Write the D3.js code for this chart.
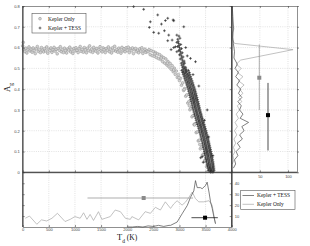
<!DOCTYPE html>
<html>
<head>
<meta charset="utf-8">
<script src="https://cdn.jsdelivr.net/npm/d3@7"></script>
<style>
body { margin: 0; background: #fff; }
svg { display: block; }
.tick text { font-family: "Liberation Sans", Arial, sans-serif; font-size: 4px; fill: #444; }
.axis path, .axis line { stroke: #444; stroke-width: 0.6; }
.grid line { stroke: #c4c4c4; stroke-width: 0.5; stroke-dasharray: 1,1.2; }
.serif { font-family: "Liberation Serif", "DejaVu Serif", serif; fill: #111; }
</style>
</head>
<body>
<div id="chart"></div>
<script>
// Kepler Only: flat band then the bend down
var keplerOnly = [
  [10,.625],
  [0,.608],[20,.592],[40,.581],[60,.597],[80,.574],[100,.589],[120,.603],[140,.584],[160,.593],[180,.578],
  [200,.598],[220,.586],[240,.571],[260,.594],[280,.605],[300,.582],[320,.590],[340,.576],[360,.600],[380,.587],
  [400,.579],[420,.595],[440,.584],[460,.603],[480,.573],[500,.591],[520,.586],[540,.598],[560,.577],[580,.589],
  [600,.601],[620,.583],[640,.592],[660,.570],[680,.595],[700,.587],[720,.604],[740,.580],[760,.591],[780,.576],
  [800,.597],[820,.585],[840,.574],[860,.593],[880,.588],[900,.602],[920,.579],[940,.590],[960,.572],[980,.596],
  [1000,.584],[1020,.599],[1040,.587],[1060,.576],[1080,.594],[1100,.605],[1120,.582],[1140,.591],[1160,.578],[1180,.600],
  [1200,.589],[1220,.575],[1240,.597],[1260,.586],[1280,.608],[1300,.581],[1320,.593],[1340,.577],[1360,.601],[1380,.588],
  [1400,.583],[1420,.596],[1440,.574],[1460,.591],[1480,.604],[1500,.585],[1520,.579],[1540,.598],[1560,.590],[1580,.576],
  [1600,.595],[1620,.587],[1640,.603],[1660,.580],[1680,.592],[1700,.574],[1720,.599],[1740,.586],[1760,.606],[1780,.583],
  [1800,.591],[1820,.578],[1840,.597],[1860,.588],[1880,.573],[1900,.601],[1920,.584],[1940,.594],[1960,.580],[1980,.599],
  [2000,.587],[2020,.602],[2040,.576],[2060,.593],[2080,.585],[2100,.598],[2120,.571],[2140,.590],[2160,.596],[2180,.581],
  [2200,.588],[2220,.575],[2240,.594],[2260,.583],[2280,.599],[2300,.572],[2320,.586],[2340,.592],[2360,.577],[2380,.584],
  [2400,.580],[2420,.590],[2440,.566],[2460,.585],[2480,.561],[2500,.581],[2520,.558],[2540,.576],[2560,.552],[2580,.570],
  [2600,.547],[2620,.566],[2640,.543],[2660,.558],[2680,.532],[2700,.551],[2720,.525],[2740,.545],[2760,.516],[2780,.533],
  [2800,.507],[2820,.524],[2840,.496],[2860,.513],[2880,.484],[2900,.501],[2920,.471],[2940,.487],[2960,.456],[2980,.470],
  [3000,.441],[3020,.452],[3040,.419],[3060,.430],[3080,.394],[3100,.403],[3120,.366],[3140,.372],[3160,.333],[3180,.340],
  [3200,.301],[3220,.307],[3240,.267],[3260,.273],[3280,.230],[3300,.234],[3320,.191],[3340,.194],[3360,.151],[3380,.155],
  [3400,.113],[3420,.120],[3440,.082],[3460,.088],[3480,.053],[3500,.060],[3520,.027],[3540,.035],[3560,.006],[3580,.018],
  [3600,.004],
  [2530,.570],[2650,.550],[2770,.525],[2890,.492],[2990,.455],[3090,.398],[3190,.320],[3290,.228],[3390,.134],[3490,.058],[3570,.014]
];

// Kepler + TESS: main steep band, one row per A value
var tessBand = [
  [.66,[2950]],[.655,[2990]],[.645,[3010]],[.64,[2968]],[.63,[2976]],[.625,[2950]],[.62,[2984]],[.615,[3025]],
  [.61,[2992]],[.605,[2965]],[.60,[3000]],[.595,[3040]],[.59,[3009]],[.585,[2985]],[.58,[3018]],[.575,[3055]],
  [.57,[3027]],[.565,[3000]],[.56,[3036]],[.555,[3070]],[.55,[3045]],[.545,[3015]],[.54,[3055]],[.535,[3090]],
  [.53,[3065]],[.525,[3035,3100]],[.52,[3075]],[.515,[3045]],[.51,[3085]],[.505,[3120,3060]],[.50,[3095]],[.495,[3070,3130]],
  [.49,[3044,3112,3172]],[.485,[3080,3140]],[.48,[3060,3120,3190]],[.475,[3098,3160]],
  [.47,[3072,3140,3200]],[.465,[3110,3175]],[.46,[3088,3150,3215]],[.455,[3128,3190]],
  [.45,[3100,3168,3228]],[.445,[3140,3205]],[.44,[3112,3180,3242]],[.435,[3155,3218]],
  [.43,[3128,3190,3256]],[.425,[3165,3230]],[.42,[3140,3205,3268]],[.415,[3180,3245]],
  [.41,[3152,3215,3282]],[.405,[3192,3258]],[.40,[3165,3230,3295]],[.395,[3205,3270]],
  [.39,[3175,3242,3305]],[.385,[3215,3280]],[.38,[3186,3250,3316]],[.375,[3225,3290]],
  [.37,[3196,3262,3325]],[.365,[3235,3300]],[.36,[3205,3270,3336]],[.355,[3248,3310]],
  [.35,[3215,3282,3345]],[.345,[3258,3320]],[.34,[3226,3290,3356]],[.335,[3268,3332]],
  [.33,[3236,3300,3366]],[.325,[3278,3342]],[.32,[3245,3312,3375]],[.315,[3288,3352]],
  [.31,[3256,3320,3386]],[.305,[3298,3362]],[.30,[3265,3332,3395]],[.295,[3310,3372]],
  [.29,[3276,3340,3406]],[.285,[3320,3385]],[.28,[3288,3352,3418]],[.275,[3330,3395]],
  [.27,[3298,3365,3428]],[.265,[3342,3405]],[.26,[3310,3375,3440]],[.255,[3352,3418]],
  [.25,[3320,3386,3450]],[.245,[3365,3428]],[.24,[3332,3398,3462]],[.235,[3375,3440]],
  [.23,[3345,3410,3474]],[.225,[3388,3452]],[.22,[3356,3420,3486]],[.215,[3398,3464]],
  [.21,[3368,3432,3498]],[.205,[3412,3475]],[.20,[3380,3446,3510]],[.195,[3422,3486]],
  [.19,[3390,3455,3520]],[.185,[3432,3496]],[.18,[3400,3466,3530]],[.175,[3442,3506]],
  [.17,[3410,3475,3540]],[.165,[3452,3516]],[.16,[3420,3486,3550]],[.155,[3462,3526]],
  [.15,[3430,3495,3560]],[.145,[3472,3536]],[.14,[3440,3504,3568]],[.135,[3480,3545]],
  [.13,[3448,3514,3578]],[.125,[3490,3554]],[.12,[3456,3522,3586]],[.115,[3500,3562]],
  [.11,[3466,3530,3596]],[.105,[3508,3572]],[.10,[3475,3540,3604]],[.095,[3516,3580]],
  [.09,[3484,3548,3612]],[.085,[3525,3588]],[.08,[3492,3556,3620]],[.075,[3532,3596]],
  [.07,[3500,3565,3628]],[.065,[3540,3604]],[.06,[3510,3572,3636]],[.055,[3548,3612]],
  [.05,[3518,3580,3644]],[.045,[3556,3620]],[.04,[3528,3590,3650]],[.035,[3565,3626]],
  [.03,[3536,3598,3656]],[.025,[3574,3634]],[.02,[3545,3605,3660]],[.015,[3582,3640]],
  [.01,[3555,3612,3664]],[.005,[3590,3645]],[.00,[3600,3640]]
];

// Kepler + TESS: scattered points off the band
var tessScatter = [
  [2123,.797],[2315,.784],[2584,.757],[2443,.724],[2424,.697],[2507,.673],[2603,.669],[2655,.713],
  [2731,.730],[2776,.741],[2879,.733],[2891,.729],[3083,.700],[2712,.681],[2795,.660],[2776,.633],
  [2860,.636],[2891,.600],[2840,.590],[2950,.580],[2923,.604],[3307,.532],[3211,.548],[3371,.415],
  [3532,.300],[3436,.075],[3455,.048],[3407,.070],[3120,.600],[3150,.560],[3260,.470],[3480,.250],
  [3560,.170],[3640,.080]
];

// right panel: distributions of A_g  [A, count]
var histAKepler = [
  [.80,1],[.75,1],[.71,2],[.69,4],[.67,1],[.64,1],[.62,5],[.59,109],[.54,16],[.52,8],[.50,17],[.48,10],
  [.46,20],[.44,12],[.42,22],[.40,14],[.38,20],[.36,12],[.34,18],[.32,10],[.30,14],[.28,8],[.26,12],
  [.24,6],[.22,10],[.20,5],[.18,9],[.16,4],[.14,7],[.12,3],[.10,6],[.08,2],[.06,4],[.04,1]
];
var histATess = [
  [.80,1],[.75,2],[.70,3],[.65,2],[.62,3],[.58,5],[.55,4],[.52,10],[.50,6],[.48,12],[.46,7],[.44,14],
  [.42,9],[.40,16],[.38,12],[.36,18],[.34,11],[.32,17],[.30,14],[.28,20],[.26,15],[.24,30],[.22,18],
  [.20,22],[.18,14],[.16,19],[.14,10],[.12,15],[.10,8],[.08,11],[.06,5],[.04,7],[.02,3]
];

// bottom panel: distributions of T_d  [T, count]
var histTKepler = [
  [50,8],[130,10],[270,2.5],[360,6.5],[460,5.5],[560,8],[665,12.5],[810,5],[910,7],[1000,9.5],
  [1100,8],[1165,13],[1230,7],[1290,11.5],[1355,6],[1450,14],[1515,7],[1580,8],[1675,9.5],[1770,15.5],
  [1870,14],[1965,8],[2060,7],[2090,9.5],[2220,6.5],[2345,14],[2445,12.5],[2540,18],[2635,15.5],[2730,23],
  [2830,17],[2890,21],[2955,24],[3050,20],[3115,22.7],[3180,27],[3245,32],[3305,26],[3370,23],[3465,23],
  [3565,24],[3625,20],[3660,10.6],[3690,3]
];
var histTTess = [
  [2000,0],[2100,0],[2200,0.5],[2300,0],[2400,1],[2500,0.5],[2600,1.5],[2700,0.5],[2800,1.5],[2830,1.5],
  [2955,4.5],[3050,12],[3150,19.7],[3210,27],[3275,33],[3307,42.4],[3340,36],[3400,36],[3435,35],[3500,38],
  [3530,41],[3565,32],[3595,23],[3627,17],[3660,9],[3690,3]
];

// error bars: [centre, low, high, other coordinate]
var errAKepler = [0.455, 0.30, 0.615, 49];
var errATess = [0.275, 0.105, 0.43, 64.5];
var errTKepler = [2315, 1240, 3260, 26.5];
var errTTess = [3490, 3230, 3735, 8.5];

var xTicks = [0,500,1000,1500,2000,2500,3000,3500,4000];
var yTicks = [0,0.1,0.2,0.3,0.4,0.5,0.6,0.7,0.8];
var countTicksT = [10,20,30,40];
var countTicksA = [50,100];

function init() {
    var w = 310, h = 246;
    var left = 22.7, mid = 231.7, right = 297, top = 6, split = 172.3, bottom = 227;

    var svg = d3.select("#chart").append("svg")
        .attr("width", w).attr("height", h);

    var xScale = d3.scaleLinear().domain([0,4000]).range([left, mid]);
    var yScale = d3.scaleLinear().domain([0,0.8]).range([split, top]);
    var cntX = d3.scaleLinear().domain([0,116]).range([mid, right]);
    var cntY = d3.scaleLinear().domain([0,50]).range([bottom, split]);

    //grids
    var g = svg.append("g").attr("class", "grid");
    g.selectAll(".gx").data(xTicks.slice(1, -1)).enter().append("line")
        .attr("x1", d => xScale(d)).attr("x2", d => xScale(d))
        .attr("y1", top).attr("y2", bottom);
    g.selectAll(".gy").data(yTicks.slice(1, -1)).enter().append("line")
        .attr("x1", left).attr("x2", right)
        .attr("y1", d => yScale(d)).attr("y2", d => yScale(d));
    g.selectAll(".ga").data(countTicksA).enter().append("line")
        .attr("x1", d => cntX(d)).attr("x2", d => cntX(d))
        .attr("y1", top).attr("y2", split);

    //scatter: Kepler only circles
    svg.append("g").selectAll("circle").data(keplerOnly).enter().append("circle")
        .attr("cx", d => xScale(d[0])).attr("cy", d => yScale(d[1]))
        .attr("r", 1.4)
        .attr("fill", "#d2d2d2").attr("stroke", "#8e8e8e").attr("stroke-width", 0.5);

    //scatter: Kepler + TESS pluses
    var tessPts = tessScatter.slice();
    tessBand.forEach(function(row) {
        row[1].forEach(function(t) { tessPts.push([t, row[0]]); });
    });
    var plus = "M-1.4,0H1.4M0,-1.4V1.4";
    svg.append("g").selectAll("path").data(tessPts).enter().append("path")
        .attr("d", plus)
        .attr("transform", d => "translate(" + xScale(d[0]) + "," + yScale(d[1]) + ")")
        .attr("stroke", "#111").attr("stroke-width", 0.6).attr("fill", "none");

    //right panel histograms
    var lineA = d3.line().x(d => cntX(d[1])).y(d => yScale(d[0]));
    svg.append("path").datum(histAKepler).attr("d", lineA)
        .attr("fill", "none").attr("stroke", "#a8a8a8").attr("stroke-width", 0.7);
    svg.append("path").datum(histATess).attr("d", lineA)
        .attr("fill", "none").attr("stroke", "#4a4a4a").attr("stroke-width", 0.7);

    //bottom panel histograms
    var lineT = d3.line().x(d => xScale(d[0])).y(d => cntY(d[1]));
    svg.append("path").datum(histTKepler).attr("d", lineT)
        .attr("fill", "none").attr("stroke", "#a8a8a8").attr("stroke-width", 0.7);
    svg.append("path").datum(histTTess).attr("d", lineT)
        .attr("fill", "none").attr("stroke", "#4a4a4a").attr("stroke-width", 0.7);

    //error bars
    function vBar(e, col) {
        svg.append("line").attr("x1", cntX(e[3])).attr("x2", cntX(e[3]))
            .attr("y1", yScale(e[1])).attr("y2", yScale(e[2]))
            .attr("stroke", col).attr("stroke-width", 0.7);
        svg.append("rect").attr("x", cntX(e[3]) - 2).attr("y", yScale(e[0]) - 2)
            .attr("width", 4).attr("height", 4).attr("fill", col);
    }
    function hBar(e, col) {
        svg.append("line").attr("x1", xScale(e[1])).attr("x2", xScale(e[2]))
            .attr("y1", cntY(e[3])).attr("y2", cntY(e[3]))
            .attr("stroke", col).attr("stroke-width", 0.7);
        svg.append("rect").attr("x", xScale(e[0]) - 2).attr("y", cntY(e[3]) - 2)
            .attr("width", 4).attr("height", 4).attr("fill", col);
    }
    vBar(errAKepler, "#8a8a8a");
    vBar(errATess, "#000");
    hBar(errTKepler, "#8a8a8a");
    hBar(errTTess, "#000");

    //axes
    var fmtY = d => d === 0 ? "0" : d.toFixed(1);
    function addAxis(axis, tx, ty) {
        return svg.append("g").attr("class", "axis")
            .attr("transform", "translate(" + tx + "," + ty + ")")
            .call(axis);
    }
    addAxis(d3.axisLeft(yScale).tickValues(yTicks).tickFormat(fmtY)
        .tickSizeInner(-2).tickSizeOuter(0).tickPadding(3), left, 0);
    addAxis(d3.axisTop(xScale).tickValues(xTicks).tickFormat("")
        .tickSizeInner(-2).tickSizeOuter(0), 0, top);
    addAxis(d3.axisTop(xScale).tickValues(xTicks).tickFormat("")
        .tickSizeInner(2).tickSizeOuter(0), 0, split);
    addAxis(d3.axisBottom(xScale).tickValues(xTicks).tickFormat(d3.format("d"))
        .tickSizeInner(-2).tickSizeOuter(0).tickPadding(1.5), 0, bottom);
    addAxis(d3.axisLeft(cntY).tickValues(countTicksT).tickFormat("")
        .tickSizeInner(-2).tickSizeOuter(0), left, 0);
    addAxis(d3.axisRight(cntY).tickValues(countTicksT)
        .tickSizeInner(-2).tickSizeOuter(0).tickPadding(3), mid, 0);
    addAxis(d3.axisBottom(cntX).tickValues(countTicksA)
        .tickSizeInner(-2).tickSizeOuter(0).tickPadding(3), 0, split);
    addAxis(d3.axisTop(cntX).tickValues(countTicksA).tickFormat("")
        .tickSizeInner(-2).tickSizeOuter(0), 0, top);
    addAxis(d3.axisLeft(yScale).tickValues(yTicks).tickFormat("")
        .tickSizeInner(-2).tickSizeOuter(0), right, 0);
    addAxis(d3.axisRight(yScale).tickValues(yTicks).tickFormat("")
        .tickSizeInner(-2).tickSizeOuter(0), mid, 0);

    //heavy shared frame lines
    svg.append("line").attr("x1", left).attr("x2", right).attr("y1", split).attr("y2", split)
        .attr("stroke", "#333").attr("stroke-width", 1.1);
    svg.append("line").attr("x1", mid).attr("x2", mid).attr("y1", top).attr("y2", bottom)
        .attr("stroke", "#333").attr("stroke-width", 1.1);
    svg.append("line").attr("x1", left).attr("x2", left).attr("y1", top).attr("y2", bottom)
        .attr("stroke", "#333").attr("stroke-width", 0.9);

    //axis titles
    var ag = svg.append("text").attr("class", "serif")
        .attr("transform", "translate(10,92) rotate(-90)");
    ag.append("tspan").attr("font-size", 8.5).text("A");
    ag.append("tspan").attr("font-size", 5.5).attr("dy", 2.5).text("g");

    var td = svg.append("text").attr("class", "serif").attr("x", 117).attr("y", 240);
    td.append("tspan").attr("font-size", 8.5).text("T");
    td.append("tspan").attr("font-size", 5.5).attr("dy", 2.5).text("d");
    td.append("tspan").attr("font-size", 7.5).attr("dy", -2.5).text(" (K)");

    //legend 1
    var lg = svg.append("g");
    lg.append("rect").attr("x", 32).attr("y", 13.5).attr("width", 54).attr("height", 19.5)
        .attr("fill", "#fff").attr("stroke", "#555").attr("stroke-width", 0.6);
    lg.append("circle").attr("cx", 40).attr("cy", 18.7).attr("r", 1.4)
        .attr("fill", "#d2d2d2").attr("stroke", "#8e8e8e").attr("stroke-width", 0.5);
    lg.append("path").attr("d", plus).attr("transform", "translate(40,28)")
        .attr("stroke", "#111").attr("stroke-width", 0.6);
    lg.append("text").attr("class", "serif").attr("x", 48).attr("y", 20.6)
        .attr("font-size", 5.4).text("Kepler Only");
    lg.append("text").attr("class", "serif").attr("x", 48).attr("y", 29.9)
        .attr("font-size", 5.4).text("Kepler + TESS");

    //legend 2
    var lg2 = svg.append("g");
    lg2.append("rect").attr("x", 240.7).attr("y", 190.3).attr("width", 54.3).attr("height", 19)
        .attr("fill", "#fff").attr("stroke", "#555").attr("stroke-width", 0.6);
    lg2.append("line").attr("x1", 242.5).attr("x2", 254).attr("y1", 195.5).attr("y2", 195.5)
        .attr("stroke", "#4a4a4a").attr("stroke-width", 0.7);
    lg2.append("line").attr("x1", 242.5).attr("x2", 254).attr("y1", 204.3).attr("y2", 204.3)
        .attr("stroke", "#a8a8a8").attr("stroke-width", 0.7);
    lg2.append("text").attr("class", "serif").attr("x", 257).attr("y", 197.4)
        .attr("font-size", 5.4).text("Kepler + TESS");
    lg2.append("text").attr("class", "serif").attr("x", 257).attr("y", 206.2)
        .attr("font-size", 5.4).text("Kepler Only");
}
window.onload = init;
</script>
</body>
</html>
